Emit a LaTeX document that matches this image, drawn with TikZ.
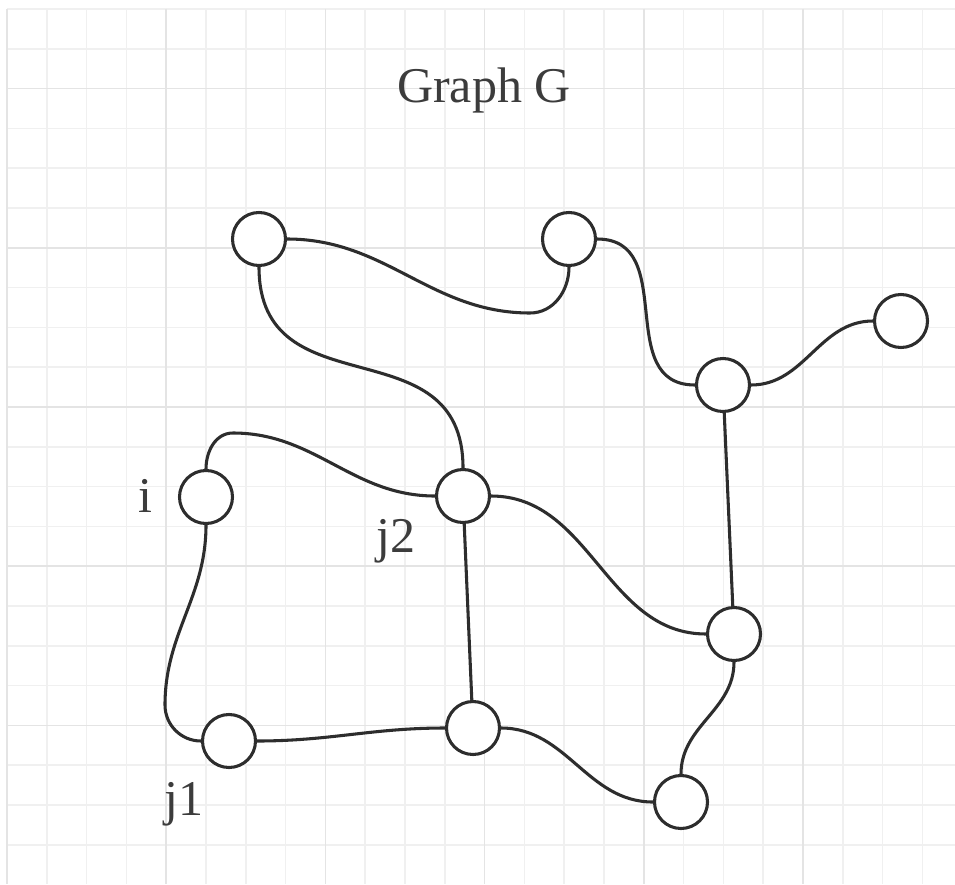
\documentclass[tikz,border=0pt]{standalone}
\usepackage{fontspec}
\setmainfont{Liberation Serif}
\usepackage{tikz}
\usetikzlibrary{arrows.meta,positioning,calc}
\definecolor{gridminor}{RGB}{240,240,240}
\definecolor{gridmajor}{RGB}{228,228,228}
\definecolor{inkgray}{RGB}{45,45,45}
\definecolor{textgray}{RGB}{60,60,60}
\tikzset{
  vtx/.style={circle,draw=inkgray,line width=2.3pt,fill=white,
              minimum size=39.75pt,inner sep=0pt},
  edge/.style={draw=inkgray,line width=2.3pt},
  lbl/.style={font=\fontsize{37.5}{40}\selectfont,text=textgray,inner sep=0pt,anchor=base},
  gminor/.style={draw=gridminor,line width=1.1pt},
  gmajor/.style={draw=gridmajor,line width=1.1pt},
}

\begin{document}
\begin{tikzpicture}[x=0.75pt,y=-0.75pt]
% --- page and grid ---
\fill[white] (0,0) rectangle (955,884);
\useasboundingbox (0,0) rectangle (955,884);
\foreach \k in {0,...,23} \draw[gminor] (7+39.8*\k,9) -- (7+39.8*\k,884);
\foreach \k in {0,...,21} \draw[gminor] (7,9+39.8*\k) -- (955,9+39.8*\k);
\foreach \k in {0,4,...,20} \draw[gmajor] (7+39.8*\k,9) -- (7+39.8*\k,884);
\foreach \k in {2,6,...,18} \draw[gmajor] (7,9+39.8*\k) -- (955,9+39.8*\k);
% --- title ---
\node[lbl] (title) at (484,103) {Graph G};
% --- vertices ---
\node[vtx] (vtl) at (259,239) {};
\node[vtx] (vtm) at (569,239) {};
\node[vtx] (vfar) at (901,321) {};
\node[vtx] (vhub) at (723,385) {};
\node[vtx] (vi) at (206,497) {};
\node[vtx] (vj2) at (463,496) {};
\node[vtx] (vright) at (734,634) {};
\node[vtx] (vj1) at (229,741) {};
\node[vtx] (vlow) at (473,728) {};
\node[vtx] (vbot) at (681,802) {};
% vertex labels
\node[lbl] (li) at (145,512) {i};
\node[lbl] (lj2) at (396,552) {j2};
\node[lbl] (lj1) at (184,815) {j1};
% --- edges ---
\draw[edge] (vtl.east) to[out=0,in=180] (530,313) to[out=0,in=-90] (vtm.south);
\draw[edge] (vtl.south) to[out=-90,in=90,looseness=1.3] (vj2.north);
\draw[edge] (vtm.east) to[out=0,in=180,looseness=1.2] (vhub.west);
\draw[edge] (vhub.east) to[out=0,in=180] (vfar.west);
\draw[edge] (vhub) -- (vright);
\draw[edge] (vi.north) to[out=90,in=180] (233,433) to[out=0,in=180] (vj2.west);
\draw[edge] (vi.south) to[out=-90,in=90] (165,705) to[out=-90,in=180] (vj1.west);
\draw[edge] (vj2) -- (vlow);
\draw[edge] (vj2.east) to[out=0,in=180] (vright.west);
\draw[edge] (vj1.east) to[out=0,in=180] (vlow.west);
\draw[edge] (vlow.east) to[out=0,in=180] (vbot.west);
\draw[edge] (vright.south) to[out=-90,in=90] (vbot.north);
\end{tikzpicture}
\end{document}
